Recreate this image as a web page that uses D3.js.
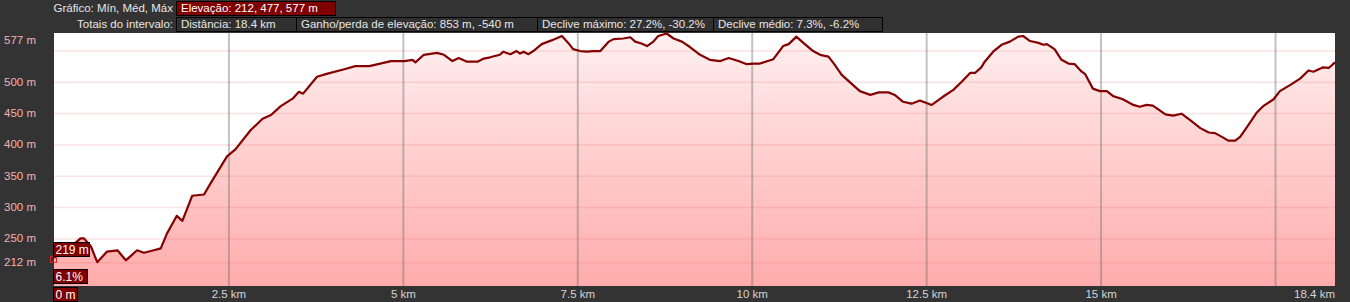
<!DOCTYPE html>
<html>
<head>
<meta charset="utf-8">
<script src="https://cdn.jsdelivr.net/npm/d3@7"></script>
<style>
  html, body { margin: 0; padding: 0; background: #333333; }
  svg { display: block; font-family: "Liberation Sans", Arial, sans-serif; font-size: 11.5px; }
</style>
</head>
<body>
<div id="chart"></div>
<script>
'use strict';

// profile: distance (km) / elevation (m)
const distKm = [0, 0.2, 0.38, 0.43, 0.53, 0.62, 0.76, 0.91, 1.03, 1.19, 1.29, 1.43, 1.53, 1.62, 1.76, 1.84,
  1.98, 2.15, 2.25, 2.48, 2.6, 2.82, 2.99, 3.11, 3.25, 3.42, 3.51, 3.57, 3.77, 3.92, 4.16, 4.32, 4.52,
  4.83, 5.02, 5.14, 5.18, 5.3, 5.49, 5.59, 5.71, 5.8, 5.92, 6.07, 6.16, 6.25, 6.39, 6.44, 6.54, 6.63,
  6.68, 6.73, 6.8, 6.87, 6.99, 7.13, 7.28, 7.37, 7.44, 7.54, 7.64, 7.73, 7.83, 7.95, 8.02, 8.16, 8.26,
  8.33, 8.42, 8.5, 8.59, 8.66, 8.78, 8.88, 9.0, 9.12, 9.26, 9.4, 9.55, 9.67, 9.81, 9.93, 10.02, 10.12,
  10.31, 10.45, 10.53, 10.64, 10.74, 10.88, 10.98, 11.1, 11.17, 11.29, 11.41, 11.55, 11.7, 11.82, 11.96,
  12.05, 12.17, 12.29, 12.41, 12.58, 12.74, 12.89, 13.01, 13.13, 13.2, 13.29, 13.34, 13.46, 13.58, 13.7,
  13.82, 13.89, 13.99, 14.11, 14.18, 14.23, 14.34, 14.44, 14.54, 14.63, 14.73, 14.78, 14.89, 14.99,
  15.09, 15.18, 15.32, 15.47, 15.56, 15.66, 15.75, 15.93, 16.04, 16.16, 16.28, 16.43, 16.55, 16.64,
  16.74, 16.83, 16.93, 17.0, 17.1, 17.24, 17.33, 17.48, 17.57, 17.72, 17.86, 17.98, 18.05, 18.19, 18.27, 18.36];
const elevM = [219, 232, 250, 250, 237, 212, 229, 231, 215, 231, 227, 231, 234, 258, 286, 278,
  318, 320, 339, 381, 392, 423, 441, 447, 461, 473, 484, 481, 508, 513, 520, 525, 525,
  533, 533, 535, 531, 543, 546, 543, 533, 538, 532, 532, 537, 539, 543, 548, 544, 549,
  545, 548, 544, 549, 560, 566, 573, 562, 552, 549, 548, 549, 549, 564, 568, 569, 571,
  564, 561, 557, 564, 573, 577, 569, 564, 555, 543, 535, 533, 538, 533, 528, 529, 529,
  536, 557, 560, 572, 562, 549, 543, 540, 530, 511, 499, 485, 479, 483, 483,
  479, 468, 465, 470, 463, 476, 487, 500, 514, 514, 523, 532, 548, 559, 564,
  572, 573, 565, 562, 559, 560, 552, 535, 529, 528, 516, 512, 489, 485,
  485, 477, 472, 463, 460, 463, 462, 448, 446, 449, 439, 426, 419, 418,
  412, 406, 406, 412, 428, 451, 461, 472, 485, 495, 505, 518, 516, 523, 522, 531];

const xGridKm = [2.5, 5, 7.5, 10, 12.5, 15, 17.5];
const xLabelKm = [2.5, 5, 7.5, 10, 12.5, 15];
const xEndLabel = "18.4 km";
const yGridM = [212, 250, 300, 350, 400, 450, 500, 550];
const yLabelM = [212, 250, 300, 350, 400, 450, 500, 577];

const chartCaption = "Gráfico: Mín, Méd, Máx";
const chartStat = "Elevação: 212, 477, 577 m";
const totalsCaption = "Totais do intervalo:";
const totals = ["Distância: 18.4 km", "Ganho/perda de elevação: 853 m, -540 m",
  "Declive máximo: 27.2%, -30.2%", "Declive médio: 7.3%, -6.2%"];

const cursorKm = 0, cursorElev = 219, cursorSlope = "6.1%";

// layout
const W = 1350, H = 302;
const plot = {left: 54, right: 1335, top: 33.5, bottom: 286};
const totalsWidths = [120, 241, 176, 169];

const data = distKm.map((d, i) => ({d: d, e: elevM[i]}));

const x = d3.scaleLinear().domain([0, 18.36]).range([plot.left, plot.right]);
const y = d3.scaleLinear().domain([174, 577]).range([plot.bottom, plot.top]);

const svg = d3.select("#chart").append("svg")
    .attr("width", W)
    .attr("height", H);

svg.append("rect").attr("width", W).attr("height", H).attr("fill", "#333333");

// plot background
svg.append("rect")
    .attr("x", plot.left).attr("y", 33)
    .attr("width", plot.right - plot.left).attr("height", plot.bottom - 33)
    .attr("fill", "#ffffff");

const grad = svg.append("defs").append("linearGradient")
    .attr("id", "elevFill")
    .attr("gradientUnits", "userSpaceOnUse")
    .attr("x1", 0).attr("x2", 0).attr("y1", plot.top).attr("y2", plot.bottom);
grad.append("stop").attr("offset", 0).attr("stop-color", "#fff0f0");
grad.append("stop").attr("offset", 1).attr("stop-color", "#ffabab");

const area = d3.area()
    .x(d => x(d.d))
    .y0(plot.bottom)
    .y1(d => y(d.e));

const line = d3.line()
    .x(d => x(d.d))
    .y(d => y(d.e));

svg.append("path")
    .datum(data)
    .attr("d", area)
    .attr("fill", "url(#elevFill)");

// grid drawn over the fill, semi transparent
const hGrid = svg.append("g")
    .attr("transform", `translate(${plot.left},0)`)
    .call(d3.axisLeft(y).tickValues(yGridM).tickSize(-(plot.right - plot.left)).tickFormat(""));
hGrid.select(".domain").remove();
hGrid.selectAll("line")
    .attr("stroke", "rgb(235,110,110)")
    .attr("stroke-opacity", 0.2)
    .attr("stroke-width", 1.5);

const vGrid = svg.append("g")
    .attr("transform", `translate(0,${plot.bottom})`)
    .call(d3.axisBottom(x).tickValues(xGridKm).tickSize(-(plot.bottom - 33)).tickFormat(""));
vGrid.select(".domain").remove();
vGrid.selectAll("line")
    .attr("stroke", "rgb(110,110,110)")
    .attr("stroke-opacity", 0.42)
    .attr("stroke-width", 2);

svg.append("path")
    .datum(data)
    .attr("d", line)
    .attr("fill", "none")
    .attr("stroke", "#850000")
    .attr("stroke-width", 2.2)
    .attr("stroke-linejoin", "round");

// y labels, left aligned at the page edge
svg.append("g").selectAll("text")
    .data(yLabelM)
    .join("text")
    .attr("x", 4)
    .attr("y", d => Math.max(y(d), 40) + 4)
    .attr("fill", "#f0b2b2")
    .text(d => d + " m");

// x labels
const xAxis = svg.append("g")
    .attr("transform", `translate(0,${plot.bottom})`)
    .call(d3.axisBottom(x).tickValues(xLabelKm).tickSize(0).tickPadding(3)
        .tickFormat(d => d + " km"));
xAxis.select(".domain").remove();
xAxis.attr("font-family", null).attr("font-size", null);
xAxis.selectAll("text")
    .attr("fill", "#d4d4d4")
    .attr("dy", null)
    .attr("y", 12);

svg.append("text")
    .attr("x", plot.right)
    .attr("y", 298)
    .attr("text-anchor", "end")
    .attr("fill", "#d4d4d4")
    .text(xEndLabel);

// header
function box(g, bx, by, bw, bh, fill) {
  g.append("rect")
      .attr("x", bx + 0.5).attr("y", by + 0.5)
      .attr("width", bw).attr("height", bh)
      .attr("fill", fill)
      .attr("stroke", "#000000");
}

const header = svg.append("g");
header.append("text")
    .attr("x", 173).attr("y", 12)
    .attr("text-anchor", "end")
    .attr("fill", "#e6e6e6")
    .text(chartCaption);
box(header, 176, 1, 159, 14, "#800000");
header.append("text")
    .attr("x", 181).attr("y", 12)
    .attr("fill", "#ffffff")
    .text(chartStat);

header.append("text")
    .attr("x", 173).attr("y", 28)
    .attr("text-anchor", "end")
    .attr("fill", "#e6e6e6")
    .text(totalsCaption);

let bx = 176;
totals.forEach((t, i) => {
  box(header, bx, 17, totalsWidths[i], 14, "#303030");
  header.append("text")
      .attr("x", bx + 5).attr("y", 28)
      .attr("fill", "#e6e6e6")
      .text(t);
  bx += totalsWidths[i];
});

// cursor at the start of the track
const cur = svg.append("g");
const cx = x(cursorKm);

cur.append("rect")
    .attr("x", cx - 3.5).attr("y", y(cursorElev) - 1.5)
    .attr("width", 6).attr("height", 6)
    .attr("fill", "none")
    .attr("stroke", "#e02424");

function tag(label, ty, base, w) {
  box(cur, cx - 1, ty, w, 14, "#800000");
  cur.append("text")
      .attr("x", cx + 1.5).attr("y", base)
      .attr("fill", "#ffffff")
      .style("font-size", "12px")
      .text(label);
}
tag(cursorElev + " m", 242, 254, 36);
tag(cursorSlope, 269, 281, 34);
tag(cursorKm + " m", 287, 299, 24);
</script>
</body>
</html>
